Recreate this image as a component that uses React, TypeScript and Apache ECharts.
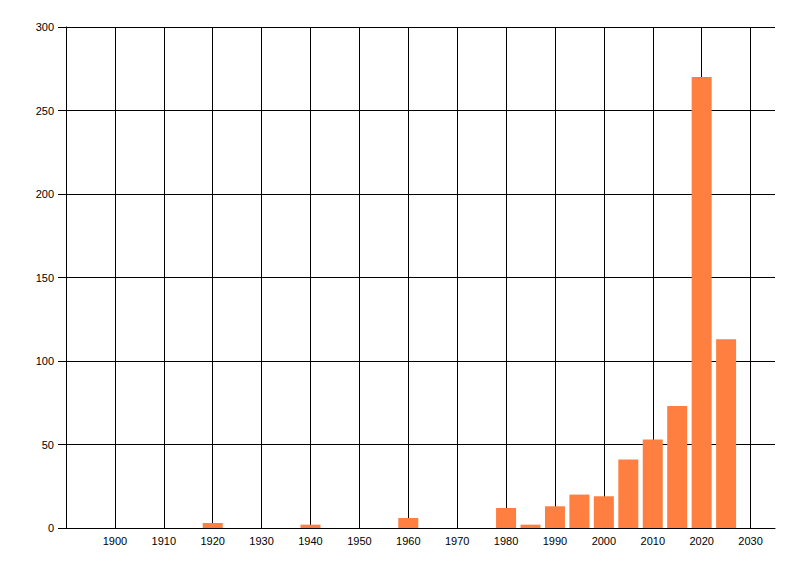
import React, { useEffect, useRef } from 'react';
import * as echarts from 'echarts';

// Year of each bar and its count
const years = [1920, 1940, 1960, 1980, 1985, 1990, 1995, 2000, 2005, 2010, 2015, 2020, 2025];
const counts = [3, 2, 6, 12, 2, 13, 20, 19, 41, 53, 73, 270, 113];

const xMin = 1890;
const xMax = 2035;
const yTicks = [0, 50, 100, 150, 200, 250, 300];

const labelFont = { fontFamily: 'Liberation Sans', fontSize: 11, color: '#000' };

const App: React.FC = () => {
  const chartRef = useRef<HTMLDivElement>(null);

  useEffect(() => {
    document.body.style.margin = '0';
    if (!chartRef.current) return;
    const chart = echarts.init(chartRef.current, undefined, { renderer: 'svg' });

    const option: echarts.EChartsOption = {
      animation: false,
      backgroundColor: '#fff',
      grid: { left: 66, right: 25, top: 27, bottom: 48 },
      xAxis: {
        type: 'value',
        min: xMin,
        max: xMax,
        interval: 10,
        axisLine: { show: true, lineStyle: { color: '#000', width: 1 } },
        axisTick: { show: false },
        axisLabel: {
          ...labelFont,
          margin: 7,
          formatter: (v: number) => (v === xMin || v === xMax ? '' : String(v)),
        },
        splitLine: {
          show: true,
          showMinLine: false,
          showMaxLine: false,
          lineStyle: { color: '#000', width: 1 },
        } as any,
      },
      yAxis: {
        type: 'value',
        min: yTicks[0],
        max: yTicks[yTicks.length - 1],
        interval: 50,
        axisLine: { show: true, lineStyle: { color: '#000', width: 1 } },
        axisTick: { show: true, length: 8, lineStyle: { color: '#000' } },
        axisLabel: { ...labelFont, margin: 12 },
        splitLine: { show: true, lineStyle: { color: '#000', width: 1 } },
      },
      series: [
        {
          type: 'bar',
          barWidth: 20,
          data: years.map((y, i) => [y, counts[i]]),
          itemStyle: { color: '#FF7F40' },
        },
      ],
    };

    chart.setOption(option);
    return () => {
      chart.dispose();
    };
  }, []);

  return <div ref={chartRef} style={{ width: 800, height: 576 }} />;
};

export default App;
